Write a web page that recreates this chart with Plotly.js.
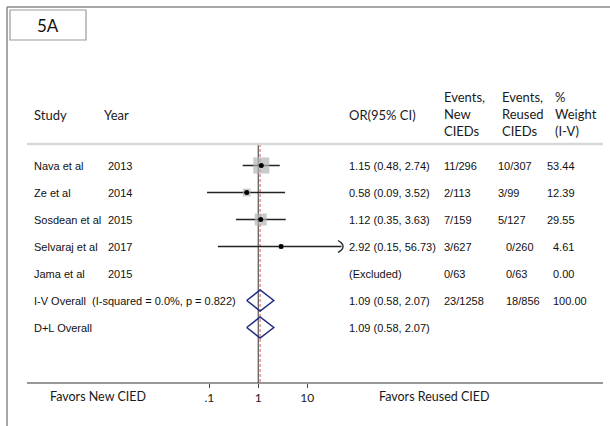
<!DOCTYPE html>
<html>
<head>
<meta charset="utf-8">
<script src="https://cdn.plot.ly/plotly-3.0.1.min.js"></script>
<style>html,body{margin:0;padding:0;background:#fff;overflow:hidden;}#chart{width:610px;height:426px;}</style>
</head>
<body>
<div id="chart"></div>
<script>
// ---------- data ----------
const studies = ["Nava et al", "Ze et al", "Sosdean et al", "Selvaraj et al", "Jama et al"];
const years = ["2013", "2014", "2015", "2017", "2015"];
const orEst = [1.15, 0.58, 1.12, 2.92, null];
const orLo = [0.48, 0.09, 0.35, 0.15, null];
const orHi = [2.74, 3.52, 3.63, 56.73, null];
const newEvents = [11, 2, 7, 3, 0];
const newTotal = [296, 113, 159, 627, 63];
const reusedEvents = [10, 3, 5, 0, 0];
const reusedTotal = [307, 99, 127, 260, 63];
const weights = [53.44, 12.39, 29.55, 4.61, 0.00];
const pooledLabels = ["I-V Overall\u00a0\u00a0(I-squared = 0.0%, p = 0.822)", "D+L Overall"];
const pooledEst = [1.09, 1.09];
const pooledLo = [0.58, 0.58];
const pooledHi = [2.07, 2.07];
const pooledWeight = ["100.00", null];
const nullValue = 1;
const tickVals = [0.1, 1, 10];
const tickText = [".1", "1", "10"];
const panelLabel = "5A";
const favorsLeft = "Favors New CIED";
const favorsRight = "Favors Reused CIED";

// ---------- geometry ----------
const L = 27, R = 610, T = 144, B = 383;   // plot area
const lineEnd = 603;                       // right end of axis and header rule
const px = x => (x - L) / (R - L);
const py = y => (B - y) / (B - T);
const oneX = 258.3, decade = 49;
const row0 = 165.5, rowH = 27;
const yTop = (T - row0) / rowH, yBot = (B - row0) / rowH;
const clipMax = 50;
const rowFont = {family: "Liberation Sans, Arial, sans-serif", size: 11, color: "#111"};
const hdrFont = {family: "Lato, sans-serif", size: 13, color: "#1a1a1a"};

const nS = studies.length;
const idx = studies.map((_, i) => i);

// CI lines
const ciX = [], ciY = [];
idx.forEach(i => {
  if (orEst[i] == null) return;
  ciX.push(orLo[i], Math.min(orHi[i], clipMax), null);
  ciY.push(i, i, null);
});
// ")" arrowheads for clipped intervals
const arX = [], arY = [];
idx.forEach(i => {
  if (orHi[i] == null || orHi[i] <= clipMax) return;
  for (let k = -4; k <= 4; k++) {
    const t = k / 4;
    const offPx = -3.5 + 5 * (1 - t * t);
    arX.push(clipMax * Math.pow(10, offPx / decade));
    arY.push(i + 6 * t / rowH);
  }
  arX.push(null); arY.push(null);
});

// diamonds
const dH = 10.5 / rowH;
const dX = [], dY = [];
pooledEst.forEach((e, k) => {
  const r = nS + k;
  dX.push(pooledLo[k], e, pooledHi[k], e, pooledLo[k], null);
  dY.push(r, r - dH, r, r + dH, r, null);
});

const sqIdx = idx.filter(i => orEst[i] != null);
const traces = [
  {x: [nullValue, nullValue], y: [yTop, yBot], mode: "lines", line: {color: "#6a6a6a", width: 1.4}, type: "scatter"},
  {x: [pooledEst[0], pooledEst[0]], y: [yTop, yBot], mode: "lines", line: {color: "#e08a8a", width: 1.4, dash: "3px,2px"}, type: "scatter"},
  {x: ciX, y: ciY, mode: "lines", line: {color: "#222", width: 1.3}, type: "scatter"},
  {x: arX, y: arY, mode: "lines", line: {color: "#222", width: 1.3, shape: "spline"}, type: "scatter"},
  {x: sqIdx.map(i => orEst[i]), y: sqIdx, mode: "markers", type: "scatter",
   marker: {symbol: "square", color: "#b3b3b3", size: sqIdx.map(i => 2.2 * Math.sqrt(weights[i])), line: {width: 0}}},
  {x: sqIdx.map(i => orEst[i]), y: sqIdx, mode: "markers", type: "scatter",
   marker: {symbol: "circle", color: "#000", size: 5}},
  {x: dX, y: dY, mode: "lines", type: "scatter", line: {color: "#1f2a80", width: 1.5}}
];

// ---------- annotations ----------
const ann = [];
const txt = (x, y, text, font, yref, extra) => ann.push(Object.assign({
  x: px(x), xref: "paper", y: y, yref: yref || "paper", text: text, showarrow: false,
  xanchor: "left", yanchor: "middle", font: font, borderpad: 0
}, extra || {}));

txt(33, py(115), "Study", hdrFont);
txt(103, py(115), "Year", hdrFont);
txt(348, py(115), "OR(95% CI)", hdrFont);
txt(443, py(114), "Events,<br>New<br>CIEDs", hdrFont, null, {align: "left"});
txt(501, py(114), "Events,<br>Reused<br>CIEDs", hdrFont, null, {align: "left"});
txt(554, py(114), "%<br>Weight<br>(I-V)", hdrFont, null, {align: "left"});

const f2 = v => v.toFixed(2);
idx.forEach(i => {
  txt(33, i, studies[i], rowFont, "y");
  txt(107, i, years[i], rowFont, "y");
  const orT = orEst[i] == null ? "(Excluded)" : f2(orEst[i]) + " (" + f2(orLo[i]) + ", " + f2(orHi[i]) + ")";
  txt(348, i, orT, rowFont, "y");
  txt(443, i, newEvents[i] + "/" + newTotal[i], rowFont, "y");
  txt(i < 3 ? 497 : 505, i, reusedEvents[i] + "/" + reusedTotal[i], rowFont, "y");
  txt(i < 3 ? 546 : 552, i, f2(weights[i]), rowFont, "y");
});
const sum = a => a.reduce((s, v) => s + v, 0);
pooledLabels.forEach((lab, k) => {
  const r = nS + k;
  txt(33, r, lab, rowFont, "y");
  txt(348, r, f2(pooledEst[k]) + " (" + f2(pooledLo[k]) + ", " + f2(pooledHi[k]) + ")", rowFont, "y");
  if (k === 0) {
    txt(443, r, sum(newEvents) + "/" + sum(newTotal), rowFont, "y");
    txt(505, r, sum(reusedEvents) + "/" + sum(reusedTotal), rowFont, "y");
    txt(552, r, pooledWeight[k], rowFont, "y");
  }
});

const ftFont = {family: "Lato, sans-serif", size: 12.5, color: "#1a1a1a"};
txt(49, py(396), favorsLeft, ftFont);
txt(378, py(396), favorsRight, ftFont);
ann.push({x: px(48), xref: "paper", y: py(26), yref: "paper", text: panelLabel, showarrow: false,
  xanchor: "center", yanchor: "middle", font: {family: "Lato, sans-serif", size: 17, color: "#111"}});

// ---------- shapes (frame, label box, header rule, axis line) ----------
const shapes = [
  {type: "line", xref: "paper", yref: "paper", x0: px(7), x1: px(610), y0: py(7), y1: py(7), line: {color: "#8a8a8a", width: 1.5}},
  {type: "line", xref: "paper", yref: "paper", x0: px(7), x1: px(7), y0: py(7), y1: py(426), line: {color: "#8a8a8a", width: 1.5}},
  {type: "rect", xref: "paper", yref: "paper", x0: px(10), x1: px(86), y0: py(10), y1: py(40), line: {color: "#9a9a9a", width: 1.2}},
  {type: "line", xref: "paper", yref: "paper", x0: 0, x1: px(lineEnd), y0: 1, y1: 1, line: {color: "#d8d8d8", width: 2.5}},
  {type: "line", xref: "paper", yref: "paper", x0: 0, x1: px(lineEnd), y0: 0, y1: 0, line: {color: "#333", width: 1.2}}
];

const layout = {
  width: 610, height: 426, autosize: false,
  margin: {l: L, r: 610 - R, t: T, b: 426 - B, pad: 0},
  paper_bgcolor: "#fff", plot_bgcolor: "#fff",
  showlegend: false,
  xaxis: {type: "log", range: [(L - oneX) / decade, (R - oneX) / decade], tickvals: tickVals, ticktext: tickText,
    ticks: "outside", ticklen: 4, tickwidth: 1, tickcolor: "#444", showline: false,
    showgrid: false, zeroline: false, fixedrange: true,
    tickfont: {family: "Lato, sans-serif", size: 12, color: "#1a1a1a"}},
  yaxis: {range: [yBot, yTop], visible: false, showline: false, showgrid: false, zeroline: false, fixedrange: true},
  annotations: ann,
  shapes: shapes
};

Plotly.newPlot("chart", traces, layout, {displayModeBar: false, staticPlot: true});
</script>
</body>
</html>
